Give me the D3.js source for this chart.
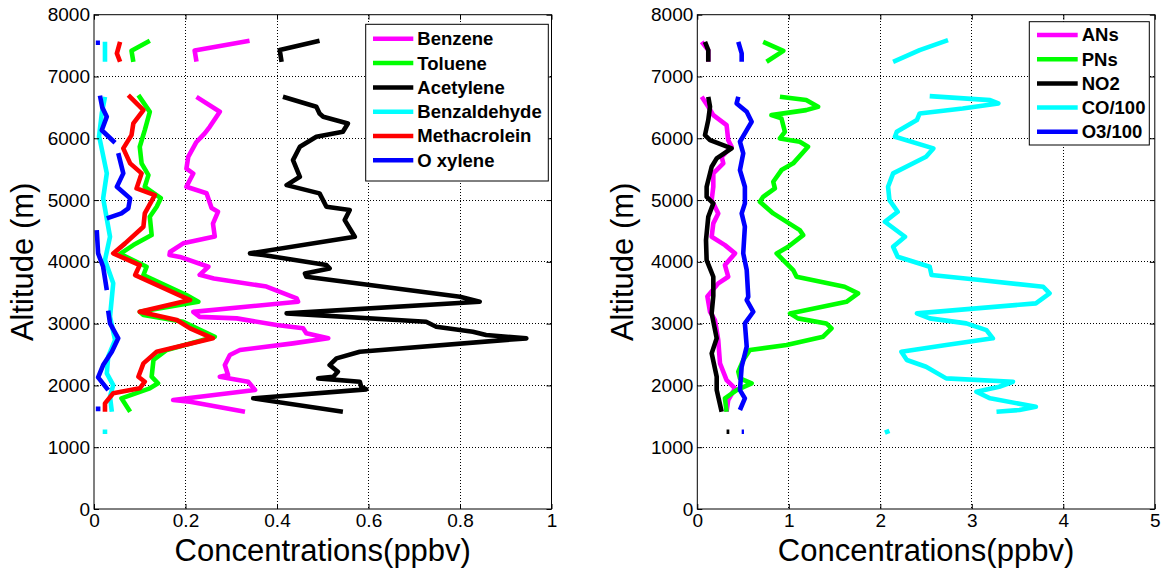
<!DOCTYPE html>
<html>
<head>
<meta charset="utf-8">
<script src="https://cdn.jsdelivr.net/npm/d3@7"></script>
<style>
  body { margin: 0; background: #fff; }
  svg { display: block; font-family: "Liberation Sans", Arial, sans-serif; }
</style>
</head>
<body>
<script>
// [concentration (ppbv), altitude (m)] ; null = gap in the profile
const benzene = [[0.34,7580],[0.22,7420],[0.224,7240], null,
  [0.224,6670],[0.275,6430],[0.253,6186],[0.242,6080],[0.224,5940],[0.206,5700],[0.202,5510],[0.217,5430],
  [0.202,5215],[0.246,5110],[0.257,4870],[0.271,4810],[0.26,4620],[0.264,4410],[0.195,4300],[0.166,4160],
  [0.165,4110],[0.188,4080],[0.25,3920],[0.231,3790],[0.262,3730],[0.377,3600],[0.443,3410],[0.446,3355],
  [0.217,3190],[0.231,3110],[0.312,3085],[0.399,2977],[0.457,2924],[0.464,2843],[0.512,2762],[0.435,2681],
  [0.319,2573],[0.297,2492],[0.286,2330],[0.293,2168],[0.275,2141],[0.337,2060],[0.352,1925],[0.173,1764],
  [0.21,1736],[0.33,1574]]

const toluene = [[0.122,7577],[0.082,7415],[0.086,7238], null,
  [0.097,6698],[0.122,6428],[0.111,6132],[0.1,5863],[0.104,5594],[0.119,5404],[0.111,5215],[0.146,5030],
  [0.137,4891],[0.122,4729],[0.126,4433],[0.086,4271],[0.057,4130],[0.115,3920],[0.108,3786],[0.202,3463],
  [0.228,3354],[0.1,3192],[0.108,3140],[0.195,3030],[0.264,2788],[0.159,2573],[0.13,2411],[0.126,2141],
  [0.14,2034],[0.122,1953],[0.06,1791],[0.079,1574]]

const acetylene = [[0.493,7577],[0.406,7427],[0.41,7238], null,
  [0.413,6671],[0.486,6510],[0.493,6402],[0.501,6348],[0.555,6240],[0.544,6105],[0.486,6024],[0.45,5863],
  [0.435,5647],[0.45,5377],[0.421,5242],[0.493,5108],[0.508,4891],[0.559,4838],[0.548,4676],[0.57,4406],
  [0.341,4137],[0.37,4110],[0.508,3948],[0.515,3894],[0.461,3813],[0.464,3759],[0.8,3436],[0.843,3354],
  [0.421,3166],[0.726,3030],[0.748,2950],[0.828,2869],[0.857,2815],[0.945,2762],[0.581,2546],[0.53,2438],
  [0.515,2330],[0.533,2222],[0.523,2141],[0.49,2114],[0.581,2060],[0.584,1979],[0.595,1936],[0.348,1791],
  [0.544,1574]]

const benzaldehyde = [[0.024,7561],[0.024,7238], null,
  [0.024,6671],[0.017,6402],[0.011,6024],[0.013,5970],[0.028,5432],[0.02,5027],[0.035,4406],[0.024,4029],
  [0.042,3652],[0.035,3111],[0.046,2734],[0.031,2465],[0.028,2195],[0.042,2006],[0.035,1818],[0.039,1574], null,
  [0.019,1251],[0.029,1251]]

const methacrolein = [[0.057,7561],[0.05,7373],[0.057,7238], null,
  [0.075,6698],[0.108,6456],[0.086,6240],[0.082,6051],[0.064,5836],[0.079,5594],[0.104,5432],[0.093,5189],
  [0.133,5080],[0.111,4784],[0.108,4568],[0.068,4299],[0.042,4137],[0.1,3948],[0.09,3786],[0.21,3382],
  [0.1,3192],[0.181,3058],[0.21,2924],[0.26,2762],[0.137,2546],[0.108,2357],[0.097,2141],[0.111,2060],
  [0.1,1953],[0.042,1872],[0.024,1710],[0.024,1574]]

const oXylene = [[0.004,7545],[0.013,7545], null,
  [0.013,6690],[0.018,6500],[0.028,6350],[0.017,6130],[0.046,5927], null,
  [0.053,5760],[0.064,5432],[0.05,5215],[0.079,5027],[0.075,4866],[0.06,4784],[0.028,4703], null,
  [0.006,4514],[0.009,4137],[0.02,3920],[0.028,3543], null,
  [0.031,3210],[0.035,3004],[0.053,2762],[0.039,2546],[0.02,2330],[0.009,2130],[0.031,1925], null,
  [0.004,1620],[0.014,1620]]

const ANs = [[0.048,7561],[0.12,7427],[0.12,7238], null,
  [0.048,6671],[0.12,6510],[0.175,6375],[0.32,6213],[0.338,5970],[0.375,5863],[0.266,5700],[0.284,5594],
  [0.175,5432],[0.175,5215],[0.157,5000],[0.229,4784],[0.175,4623],[0.157,4406],[0.302,4271],[0.412,4137],
  [0.302,3948],[0.338,3759],[0.229,3652],[0.11,3440],[0.139,3192],[0.193,3058],[0.229,2734],[0.248,2357],
  [0.32,2087],[0.412,1953],[0.338,1764],[0.32,1574]]

const PNs = [[0.72,7561],[0.94,7415],[0.757,7238], null,
  [0.903,6671],[1.19,6618],[1.32,6510],[1.19,6456],[0.81,6375],[0.92,6321],[0.957,6105],[0.903,5998],
  [1.12,5944],[1.21,5863],[1.048,5594],[0.92,5485],[0.83,5296],[0.848,5189],[0.72,5053],[0.684,4972],
  [0.83,4784],[1.12,4514],[1.157,4433],[0.993,4244],[0.867,4137],[0.939,4029],[1.048,3867],[1.085,3759],
  [1.61,3597],[1.757,3490],[1.63,3354],[1.012,3166],[1.1,3085],[1.41,3004],[1.467,2924],[1.375,2788],
  [0.976,2654],[0.575,2573],[0.502,2411],[0.448,2222],[0.466,2114],[0.594,2034],[0.43,1925],[0.302,1791],
  [0.32,1574]]

const NO2 = [[0.084,7561],[0.12,7427],[0.12,7238], null,
  [0.12,6671],[0.139,6510],[0.12,6294],[0.084,6051],[0.139,5970],[0.375,5836],[0.212,5674],[0.157,5539],
  [0.102,5215],[0.102,5053],[0.175,4946],[0.12,4729],[0.095,4352],[0.102,4029],[0.175,3759],[0.175,3450],
  [0.157,3166],[0.212,2762],[0.157,2519],[0.212,2141],[0.212,1925],[0.266,1574], null,
  [0.32,1251],[0.35,1251]]

const CO100 = [[2.74,7589],[2.43,7427],[2.14,7238], null,
  [2.54,6682],[3.2,6618],[3.29,6564],[2.9,6483],[2.43,6402],[2.4,6294],[2.18,6105],[2.16,6024],
  [2.58,5836],[2.5,5700],[2.14,5432],[2.085,5215],[2.1,5000],[2.19,4810],[2.05,4649],[2.27,4406],
  [2.14,4244],[2.19,4082],[2.54,3920],[2.56,3786],[3.09,3705],[3.78,3597],[3.85,3490],[3.7,3328],
  [2.4,3166],[2.54,3085],[2.94,3004],[3.16,2896],[3.23,2762],[2.72,2654],[2.23,2546],[2.29,2411],
  [2.5,2303],[2.72,2114],[3.45,2060],[3.3,1979],[3.05,1898],[3.2,1791],[3.7,1655],[3.52,1602],
  [3.27,1574], null,
  [2.05,1235],[2.1,1265]]

const O3100 = [[0.448,7561],[0.485,7373],[0.485,7238], null,
  [0.448,6671],[0.43,6564],[0.54,6429],[0.594,6267],[0.54,6132],[0.466,5944],[0.502,5756],[0.466,5485],
  [0.52,5215],[0.52,4946],[0.485,4784],[0.52,4568],[0.502,4137],[0.54,3867],[0.557,3436],[0.54,3382],
  [0.612,3192],[0.52,3004],[0.54,2627],[0.485,2303],[0.466,1925],[0.52,1791],[0.466,1602], null,
  [0.485,1251],[0.51,1251]]

const altTicks = [0, 1000, 2000, 3000, 4000, 5000, 6000, 7000, 8000]
const vocTicks = [0, 0.2, 0.4, 0.6, 0.8, 1]
const gasTicks = [0, 1, 2, 3, 4, 5]

const vocNames = ["Benzene", "Toluene", "Acetylene", "Benzaldehyde", "Methacrolein", "O xylene"]
const gasNames = ["ANs", "PNs", "NO2", "CO/100", "O3/100"]
const vocColors = ["#ff00ff", "#00ff00", "#000000", "#00ffff", "#ff0000", "#0000ff"]
const gasColors = ["#ff00ff", "#00ff00", "#000000", "#00ffff", "#0000ff"]

const width = 1162
const height = 574

const svg = d3.select("body")
    .append("svg")
    .attr("width", width)
    .attr("height", height)

function drawPanel(p) {
  const top = 14.7, bottom = 509
  const right = p.left + 457.5

  const x = d3.scaleLinear().domain([0, p.xMax]).range([p.left, right])
  const y = d3.scaleLinear().domain([0, 8000]).range([bottom, top])

  const g = svg.append("g")

  // dotted grid
  g.append("g").selectAll("line")
      .data(p.xTicks.slice(1, -1))
      .join("line")
      .attr("x1", d => x(d)).attr("x2", d => x(d))
      .attr("y1", top).attr("y2", bottom)
  g.append("g").selectAll("line")
      .data(altTicks.slice(1, -1))
      .join("line")
      .attr("x1", p.left).attr("x2", right)
      .attr("y1", d => y(d)).attr("y2", d => y(d))
  g.selectAll("line")
      .attr("stroke", "#000")
      .attr("stroke-width", 1)
      .attr("stroke-dasharray", "1,2")
      .attr("shape-rendering", "crispEdges")

  const line = d3.line()
      .defined(d => d)
      .x(d => x(d[0]))
      .y(d => y(d[1]))

  g.append("g").selectAll("path")
      .data(p.series)
      .join("path")
      .attr("d", line)
      .attr("fill", "none")
      .attr("stroke", (d, i) => p.colors[i])
      .attr("stroke-width", 4.6)
      .attr("stroke-linejoin", "round")

  // axes, ticks pointing inwards
  const fmt = d3.format("~g")
  g.append("g")
      .attr("transform", `translate(0,${bottom})`)
      .call(d3.axisBottom(x).tickValues(p.xTicks).tickFormat(fmt).tickSizeInner(-5).tickSizeOuter(0).tickPadding(5))
  g.append("g")
      .attr("transform", `translate(${p.left},0)`)
      .call(d3.axisLeft(y).tickValues(altTicks).tickFormat(fmt).tickSizeInner(-5).tickSizeOuter(0).tickPadding(4))
  g.append("g")
      .attr("transform", `translate(0,${top})`)
      .call(d3.axisTop(x).tickValues(p.xTicks).tickFormat("").tickSizeInner(-5).tickSizeOuter(0))
  g.append("g")
      .attr("transform", `translate(${right},0)`)
      .call(d3.axisRight(y).tickValues(altTicks).tickFormat("").tickSizeInner(-5).tickSizeOuter(0))

  g.selectAll(".domain").remove()
  g.selectAll(".tick line").attr("stroke", "#000").attr("stroke-width", 1)
  g.selectAll(".tick text")
      .attr("font-size", 19)
      .attr("font-family", "Liberation Sans, Arial, sans-serif")
      .attr("fill", "#000")

  g.append("rect")
      .attr("x", p.left).attr("y", top)
      .attr("width", right - p.left).attr("height", bottom - top)
      .attr("fill", "none")
      .attr("stroke", "#000")
      .attr("stroke-width", 1)

  g.append("text")
      .attr("x", (p.left + right) / 2)
      .attr("y", 561)
      .attr("text-anchor", "middle")
      .attr("font-size", 31)
      .text("Concentrations(ppbv)")

  g.append("text")
      .attr("transform", `translate(${p.labelX},${(top + bottom) / 2}) rotate(-90)`)
      .attr("text-anchor", "middle")
      .attr("font-size", 31)
      .text("Altitude (m)")

  // legend
  const lg = g.append("g")
      .attr("transform", `translate(${right - p.legW - p.legRight},${top + p.legTop})`)
  lg.append("rect")
      .attr("width", p.legW)
      .attr("height", p.legH)
      .attr("fill", "#fff")
      .attr("stroke", "#000")
  const rows = lg.selectAll("g.row")
      .data(p.names)
      .join("g")
      .attr("class", "row")
      .attr("transform", (d, i) => `translate(0,${p.row0 + i * p.rowStep})`)
  rows.append("line")
      .attr("x1", p.lineX0).attr("x2", p.lineX1)
      .attr("stroke", (d, i) => p.colors[i])
      .attr("stroke-width", 4.5)
  rows.append("text")
      .attr("x", p.lineX1 + 4)
      .attr("dy", "0.35em")
      .attr("font-size", 18.5)
      .attr("font-weight", "bold")
      .text(d => d)
}

drawPanel({
  left: 94, xMax: 1, xTicks: vocTicks,
  series: [benzene, toluene, acetylene, benzaldehyde, methacrolein, oXylene],
  names: vocNames, colors: vocColors, labelX: 33,
  legW: 182.6, legH: 156.7, legRight: 3.2, legTop: 9.6,
  row0: 14.5, rowStep: 24.3, lineX0: 7.3, lineX1: 47.6
})

drawPanel({
  left: 697.3, xMax: 5, xTicks: gasTicks,
  series: [ANs, PNs, NO2, CO100, O3100],
  names: gasNames, colors: gasColors, labelX: 633,
  legW: 120, legH: 123.3, legRight: 5.5, legTop: 7,
  row0: 13.3, rowStep: 24.2, lineX0: 7.7, lineX1: 48.4
})
</script>
</body>
</html>
